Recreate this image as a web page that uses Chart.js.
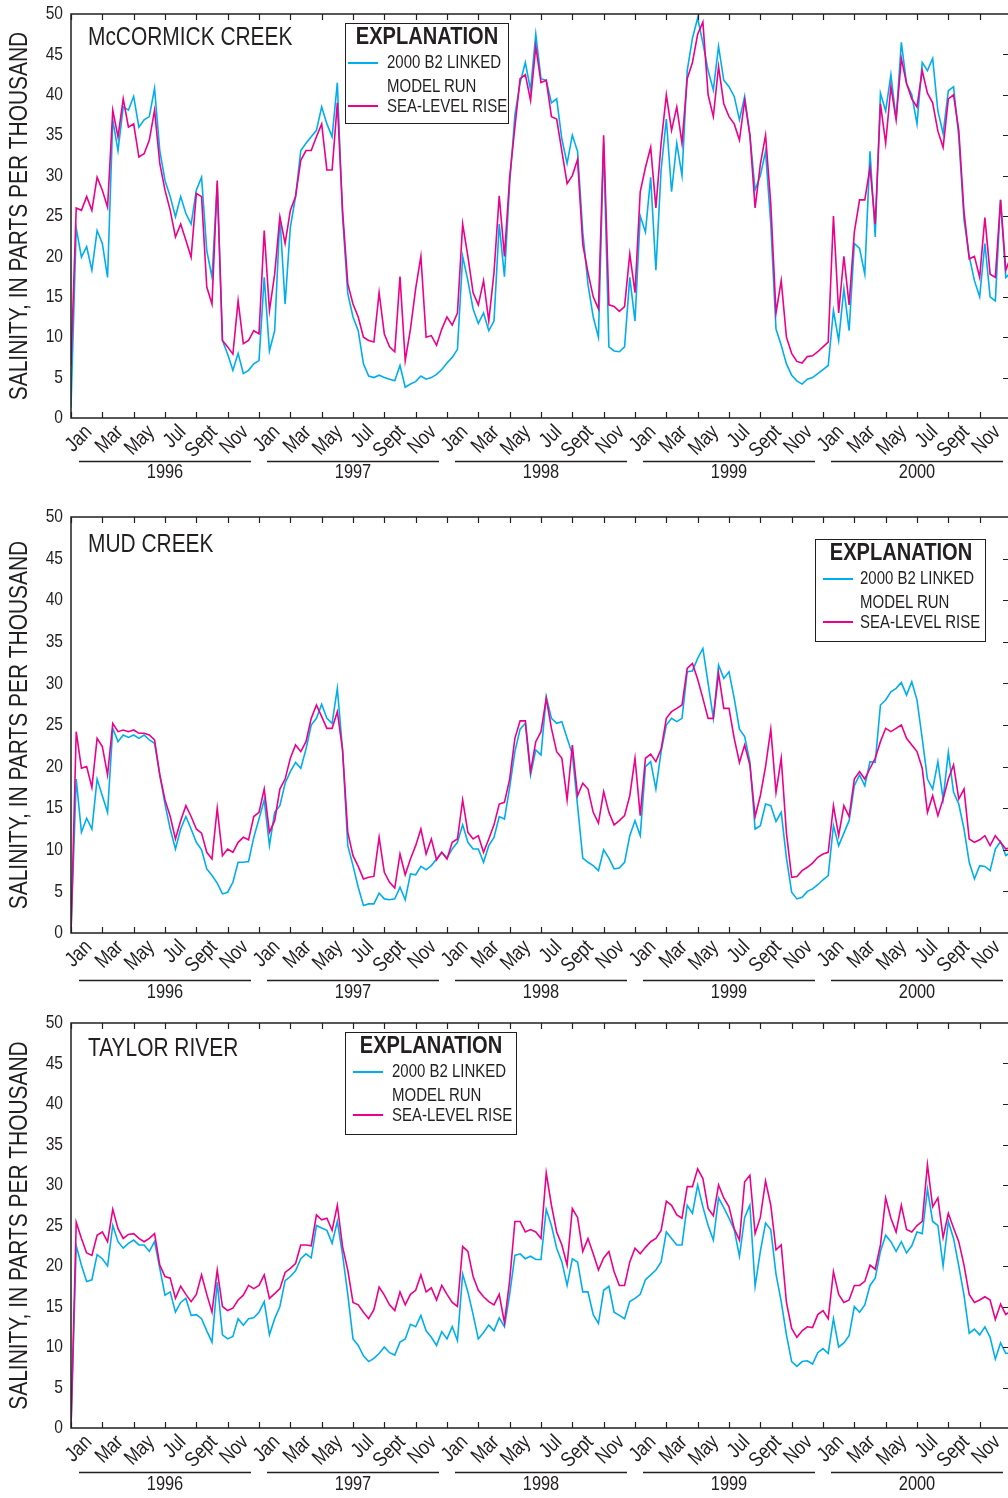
<!DOCTYPE html>
<html>
<head>
<meta charset="utf-8">
<title>Salinity</title>
<script src="https://cdn.jsdelivr.net/npm/chart.js@4.4.1/dist/chart.umd.min.js"></script>
<style>
  html, body { margin: 0; padding: 0; background: #fff; overflow: hidden; }
  body { position: relative; width: 1008px; height: 1498px; color: #231f20;
         font-family: "Liberation Sans", Arial, sans-serif; }
  canvas { position: absolute; left: 0; }
  .narrow { transform: scaleX(0.82); transform-origin: 0 0; }
  .site { position: absolute; left: 88px; font-size: 25.5px; line-height: 1; white-space: nowrap; }
  .key { position: absolute; box-sizing: border-box; border: 1.5px solid #231f20; background: #fff; }
  .key div { position: absolute; white-space: nowrap; line-height: 1; }
  .key .head { left: 50%; top: -0.5px; font-weight: bold; font-size: 24.5px;
               transform: translateX(-50%) scaleX(0.82); transform-origin: 50% 0; }
  .key .item { font-size: 18.5px; transform: scaleX(0.81); transform-origin: 0 0; }
  .key .swatch { height: 1.5px; width: 30px; }
</style>
</head>
<body>
<canvas id="mccormick" width="1030" height="500" style="top:0px"></canvas>
<canvas id="mud" width="1030" height="510" style="top:500px"></canvas>
<canvas id="taylor" width="1030" height="498" style="top:1000px"></canvas>

<div class="site narrow" style="top:23.5px">McCORMICK CREEK</div>
<div class="site narrow" style="top:530.5px">MUD CREEK</div>
<div class="site narrow" style="top:1034.5px">TAYLOR RIVER</div>

<script>
// daily salinity, sampled every ~10 days from Jan 1996 through Dec 2000
const samplesPerYear = 36;
const years = ["1996", "1997", "1998", "1999", "2000"];
const monthLabels = ["Jan", "Mar", "May", "Jul", "Sept", "Nov"];
const yTicks = [0, 5, 10, 15, 20, 25, 30, 35, 40, 45, 50];

const mccormickB2 = [
  1.3, 23.5, 19.9, 21.2, 18.3, 23.2, 21.6, 17.4, 36.9, 33.1,
  38.5, 38.1, 39.8, 36, 36.9, 37.3, 40.8, 33.1, 29.4, 27.4,
  24.9, 27.4, 25.3, 24, 28.2, 29.8, 20.7, 17.4, 29, 9.6,
  7.9, 5.9, 8, 5.5, 5.9, 6.7, 7.1, 17.4, 8.3, 10.8,
  24.9, 14.1, 23.6, 27.4, 33.1, 34, 34.8, 35.6, 38.5, 36.4,
  34.8, 41.5, 24.9, 15.4, 12.5, 10.8, 6.7, 5.2, 5.0, 5.3,
  5.0, 4.8, 4.6, 6.5, 3.8, 4.2, 4.5, 5.2, 4.8, 5.0,
  5.4, 6.0, 6.8, 7.5, 8.5, 20, 17, 13.5, 11.7, 13,
  10.8, 12, 24, 17.5, 29, 37.5, 41.5, 44, 40.6, 47.5,
  42, 41.8, 39, 39.5, 34.5, 31.5, 35, 33, 23, 16.5,
  12.5, 10, 34, 8.8, 8.3, 8.2, 8.8, 17.4, 12, 25,
  23, 29.8, 18.3, 30.7, 37, 28, 34, 30, 43, 47,
  49.5, 46.4, 43, 40.6, 46, 41.8, 41, 39.8, 36.9, 39.8,
  35, 28.2, 30, 33, 24, 11, 9, 6.7, 5.3, 4.6,
  4.2, 4.8, 5, 5.5, 6, 6.5, 13.3, 9.6, 16, 10.8,
  21.6, 21, 17.8, 33, 22.4, 40.2, 38, 42.5, 37, 46.5,
  41.4, 40, 36.4, 44, 43, 44.5, 38, 35.2, 40.5, 41,
  34.8, 24.5, 20, 17, 15, 21.6, 15, 14.5, 27, 17.4, 18
];
const mccormickSea = [
  6.5, 26, 25.7, 27.4, 25.7, 29.8, 28.2, 26.1, 38.1, 34.8,
  39.5, 36, 36.4, 32.3, 32.7, 34.4, 38.1, 31.5, 28.2, 25.7,
  22.4, 24, 22, 19.9, 27.8, 27.4, 16.2, 14.1, 29.4, 9.6,
  8.8, 7.9, 14.5, 9.2, 9.6, 10.8, 10.4, 23.2, 13.3, 17.8,
  24.9, 21.6, 25.7, 27.4, 31.9, 33.1, 33.1, 34.8, 36.4, 30.7,
  30.7, 39, 25.7, 16.6, 14.1, 12.5, 10, 9.6, 9.4, 15.5,
  10.4, 8.8, 8.2, 17.5, 7.1, 11, 16, 20, 10, 10.2,
  9.0, 11, 12.5, 11.5, 13, 24, 20, 15.5, 14, 17,
  12, 18, 27.5, 20, 29.8, 36, 42, 42.5, 39.3, 46,
  41.5, 41.8, 37.3, 37, 33, 29, 30, 32, 21.5, 18,
  15, 13.5, 35, 14, 13.8, 13.2, 13.8, 20.3, 15.5, 28,
  31, 33.5, 26, 34, 40, 35.6, 38.5, 34, 42, 44,
  47.5, 49, 40, 37.3, 43.5, 38.9, 37.3, 36.4, 34.4, 39.3,
  35, 26, 31.4, 35, 26.5, 13, 17, 10, 8, 7,
  6.8, 7.6, 7.7, 8.2, 8.8, 9.4, 25, 13, 20, 14,
  23, 27, 27, 31, 24, 38.9, 34, 41, 36.9, 44.5,
  41.4, 39.5, 38.5, 43, 40.2, 39, 35.5, 33.5, 39.5, 40,
  35.6, 25.5, 19.7, 20, 17.4, 24.8, 17.8, 17.4, 27, 18.3, 20
];

const mudB2 = [
  0, 18.5, 12.1, 13.8, 12.5, 18.5, 16.5, 14.5, 24.6, 23,
  23.8, 23.5, 23.8, 23.4, 23.8, 23.2, 22.8, 19, 15.5, 12.5,
  10.1, 12.5, 14, 12.5, 10.9, 10, 7.7, 6.9, 6, 4.7,
  4.9, 6.1, 8.5, 8.5, 8.6, 11.5, 13.7, 16, 10.5, 14.5,
  15.3, 18, 19.4, 20.5, 19.8, 22.1, 25, 25.8, 27.5, 25.8,
  25.2, 29.4, 22, 10.5, 8.1, 5.5, 3.3, 3.5, 3.5, 4.8,
  4.1, 4, 4.1, 5.5, 4, 7.1, 7, 8, 7.6, 8.1,
  8.9, 9.7, 9, 10.1, 10.9, 13, 10.9, 10.1, 10.1, 8.5,
  10.5, 11.5, 14, 13.7, 17.5, 21.8, 24.5, 25.2, 19, 22,
  21.4, 28.4, 25.8, 25.2, 25.4, 23.4, 21.5, 15.3, 9, 8.5,
  8.1, 7.5, 10, 9, 7.7, 7.8, 8.5, 11.7, 13.5, 11.7,
  20, 20.6, 17.3, 21.8, 25, 25.8, 25.4, 25.8, 31.4, 31.5,
  33, 34.2, 30, 25.8, 32.2, 30.6, 31.4, 28.2, 24.5, 23.6,
  20.6, 12.5, 12.9, 15.5, 15.3, 13.4, 14.5, 9, 4.9, 4.1,
  4.3, 5, 5.3, 5.8, 6.4, 6.9, 12.9, 10.5, 12, 13.5,
  17.7, 19, 17.7, 20.6, 20.5, 27.4, 28, 29, 29.4, 30.1,
  28.6, 30.2, 28, 23.4, 18.5, 17.3, 20.6, 16.1, 21.7, 16.9,
  15.5, 12.5, 8.5, 6.5, 8.1, 8, 7.5, 10.1, 11, 9.3, 9.7
];
const mudSea = [
  0, 24.2, 19.8, 20, 17.5, 23.4, 22.4, 19, 25.2, 24.2,
  24.4, 24.2, 24.4, 24, 24, 23.8, 23.2, 19, 16, 14,
  11.3, 13.5, 15.3, 14, 12.5, 12, 9.7, 8.9, 15, 9.3,
  10.1, 9.7, 10.9, 11.5, 11.2, 14, 14.5, 17.3, 12.1, 13.5,
  17.3, 18.5, 21, 22.6, 21.8, 23, 25.8, 27.4, 26, 24.6,
  24.6, 26.6, 22, 12.1, 9.3, 8, 6.5, 6.7, 6.8, 11.5,
  7.3, 6.1, 5.4, 9.5, 7, 8.9, 10.5, 12.5, 9.5, 11.3,
  8.8, 9.7, 8.9, 10.9, 11.3, 16, 12.1, 11.3, 11.7, 9.7,
  11.3, 13, 15.5, 15.7, 18.5, 23.4, 25.5, 25.5, 19.4, 23,
  24.2, 28.2, 24.6, 21.8, 21, 16, 22.6, 16.5, 18, 17.3,
  14.5, 13.2, 17, 14.5, 13, 13.5, 14.1, 16.5, 21, 14.1,
  21, 21.5, 20.6, 22.1, 25.8, 26.6, 27, 27.4, 31.8, 32.4,
  30.5, 28.2, 25.8, 25.8, 31.2, 27, 27, 23.4, 20.5, 22.6,
  20.2, 14, 16.5, 20, 24.5, 16.9, 21, 12, 6.7, 6.8,
  7.5, 7.9, 8.4, 9.1, 9.5, 9.7, 15.3, 11.7, 15.3, 14,
  18.5, 19.4, 18.5, 19.8, 21, 23, 24.6, 24.2, 24.6, 25,
  23.4, 22.6, 21.8, 19.8, 14.5, 16.5, 14.1, 16.1, 18.5, 20.2,
  16.1, 17.3, 11.3, 10.9, 11.2, 11.7, 10.5, 11.7, 10.9, 10.1, 10.3
];

const taylorB2 = [
  0, 22.5, 20.1, 18.1, 18.3, 21.4, 20.9, 20, 25, 23,
  22.2, 22.8, 23.2, 22.6, 22.6, 21.8, 23, 19.7, 16.4, 16.8,
  14.3, 15.5, 16, 13.9, 14, 13.5, 12, 10.6, 18, 11.5,
  11, 11.3, 13.5, 12.7, 13.5, 13.6, 14.3, 15.6, 11.5, 13.5,
  15, 18.2, 18.7, 19.4, 20.9, 21.5, 21, 25, 24.7, 24.4,
  22.8, 25.5, 21.4, 16.5, 11, 10.2, 8.9, 8.2, 8.6, 9.2,
  10, 9.3, 9, 10.6, 11, 12.8, 12.5, 13.9, 12, 11.2,
  10.2, 11.9, 11, 12.5, 10.8, 19, 16.8, 14, 11, 11.8,
  12.7, 12, 13.6, 12.5, 16.5, 21.3, 21.5, 20.9, 21.2, 20.8,
  20.8, 27, 25, 22.2, 20.5, 17.6, 20.9, 20.5, 16.8, 16.8,
  14, 12.9, 17, 17.5, 14.3, 13.9, 13.5, 15.6, 16, 16.5,
  18.3, 18.9, 19.5, 20.5, 24.2, 23.4, 22.6, 22.6, 27.5, 26.5,
  30, 27.3, 25, 23.2, 28.4, 27.2, 25.9, 24.5, 21.2, 26,
  27.5, 17.5, 21.8, 25.3, 24.5, 19, 15.6, 11.5, 8.2, 7.6,
  8.2, 8.3, 7.9, 9.3, 9.8, 9.2, 13.5, 10, 10.5, 11.4,
  15, 14.3, 15.2, 17.6, 18.5, 21.8, 23.8, 23, 21.8, 23,
  21.6, 22.5, 24.2, 24, 29.5, 25.5, 25, 20, 25.5, 23.4,
  20, 16.4, 11.7, 12.2, 11.5, 12.5, 11.2, 8.5, 10.5, 9.2, 9.3
];
const taylorSea = [
  0, 25.4, 23.4, 21.6, 21.3, 23.8, 24.2, 23, 27, 24.6,
  23.4, 23.9, 24, 23.4, 23, 23.4, 24, 20.1, 18.7, 18.5,
  16, 17.5, 16.5, 15.6, 16.5, 18.9, 16.5, 14.3, 19.5, 15,
  14.5, 14.8, 15.8, 16.4, 17.6, 17.2, 17.6, 18.9, 16, 16.6,
  17.2, 19.2, 19.7, 20.3, 22.6, 22.6, 22.5, 26.3, 25.7, 25.9,
  24.4, 27.5, 22.4, 19.5, 15.5, 15.2, 14.3, 13.5, 14.6, 17.4,
  16.4, 15.2, 14.5, 16.8, 15.2, 16.5, 17, 18.9, 16.8, 17.3,
  15.8, 17.6, 16.5, 15.5, 15, 22.4, 21.8, 18.7, 17, 16.2,
  15.6, 15.2, 16.5, 13, 18.2, 25.5, 25.5, 24.2, 24.5, 24.2,
  23.4, 31.5, 27.5, 24.2, 22.6, 20.1, 27.1, 26, 21.8, 23.4,
  21.5, 19.5, 21, 21.8, 19.3, 17.6, 17.6, 20.5, 22.2, 21.5,
  22.3, 23, 23.4, 24.4, 28, 27.5, 26.3, 25.9, 29.8, 29.8,
  32, 30.8, 27.1, 26.2, 30, 28.4, 27.3, 24.6, 23.2, 30.4,
  31.2, 24, 26, 30.5, 27.5, 22, 22.6, 15.5, 12.3, 11.2,
  12, 12.5, 12.4, 14, 14.5, 13.5, 19.3, 16.5, 15.5, 15.8,
  17.6, 17.6, 18.1, 20.1, 19.6, 22.6, 28.4, 25.9, 24.2, 27.5,
  24.5, 24.2, 25, 25.5, 32.5, 27.3, 28.4, 23.5, 26.5, 24.7,
  23, 20.1, 16.5, 15.5, 15.8, 16.2, 15.8, 13.4, 15.3, 14, 14.5
];

const INK = "#231f20";
const B2_COLOR = "#00aeef";
const SEA_COLOR = "#ec008c";
const FONT = '"Liberation Sans", Arial, sans-serif';
const SQUEEZE = 0.82; // condensed look

function narrowText(ctx, text, x, y, size, angle, align) {
  ctx.save();
  ctx.translate(x, y);
  ctx.rotate(angle);
  ctx.scale(SQUEEZE, 1);
  ctx.font = size + "px " + FONT;
  ctx.textAlign = align;
  ctx.textBaseline = "middle";
  ctx.fillText(text, 0, 0);
  ctx.restore();
}

// frame, inward ticks, axis labels and title
const axisDecor = {
  id: "axisDecor",
  afterDatasetsDraw(chart, args, opts) {
    const { ctx, chartArea: a, scales: { x, y } } = chart;
    ctx.save();
    ctx.strokeStyle = INK;
    ctx.fillStyle = INK;
    ctx.lineWidth = 1.5;
    ctx.strokeRect(a.left, a.top, a.right - a.left, a.bottom - a.top);

    ctx.lineWidth = 1.2;
    ctx.beginPath();
    for (let yr = 0; yr < years.length; yr++) {
      for (let m = 0; m < 12; m += 2) {
        const px = Math.round(x.getPixelForValue(yr + m / 12)) + 0.5;
        ctx.moveTo(px, a.top);
        ctx.lineTo(px, a.top + 6);
        ctx.moveTo(px, a.bottom);
        ctx.lineTo(px, a.bottom - 6);
      }
    }
    yTicks.forEach((v) => {
      if (v === 0 || v === 50) return;
      const py = Math.round(y.getPixelForValue(v)) + 0.5;
      ctx.moveTo(a.right, py);
      ctx.lineTo(a.right - 8, py);
    });
    ctx.stroke();

    yTicks.forEach((v) => {
      narrowText(ctx, String(v), a.left - 8, y.getPixelForValue(v), 19, 0, "right");
    });
    narrowText(ctx, "SALINITY, IN PARTS PER THOUSAND", 20, (a.top + a.bottom) / 2, 25.5, -Math.PI / 2, "center");

    years.forEach((label, yr) => {
      monthLabels.forEach((m, k) => {
        const px = x.getPixelForValue(yr + (2 * k + 1) / 12);
        narrowText(ctx, m, px + 2, a.bottom + 11, 21, -Math.PI / 4, "right");
      });

      const x0 = x.getPixelForValue(yr);
      const x1 = x.getPixelForValue(yr + 1);
      ctx.lineWidth = 1.3;
      ctx.beginPath();
      ctx.moveTo(x0 + 8, a.bottom + opts.rule + 0.5);
      ctx.lineTo(x1 - 8, a.bottom + opts.rule + 0.5);
      ctx.stroke();

      narrowText(ctx, label, (x0 + x1) / 2, a.bottom + opts.year, 20, 0, "center");
    });
    ctx.restore();
  }
};

function toPoints(values) {
  return values.map((v, i) => ({ x: i / samplesPerYear, y: v }));
}

function makePanel(id, b2, sea, top, bottom, rule, yearOffset) {
  const canvas = document.getElementById(id);
  return new Chart(canvas, {
    type: "line",
    data: {
      datasets: [
        { label: "SEA-LEVEL RISE", data: toPoints(sea), borderColor: SEA_COLOR, order: 1 },
        { label: "2000 B2 LINKED MODEL RUN", data: toPoints(b2), borderColor: B2_COLOR, order: 2 }
      ]
    },
    options: {
      responsive: false,
      animation: false,
      devicePixelRatio: 1,
      layout: { padding: { top: top, bottom: canvas.height - bottom, left: 71, right: canvas.width - 1011 } },
      elements: {
        point: { radius: 0 },
        line: { borderWidth: 1.6, tension: 0 }
      },
      plugins: {
        legend: { display: false },
        tooltip: { enabled: false },
        axisDecor: { rule: rule, year: yearOffset }
      },
      scales: {
        x: { type: "linear", min: 0, max: years.length, display: false },
        y: { min: 0, max: 50, display: false }
      }
    },
    plugins: [axisDecor]
  });
}

makePanel("mccormick", mccormickB2, mccormickSea, 14, 418, 43, 54);
makePanel("mud", mudB2, mudSea, 17, 433, 47, 59);
makePanel("taylor", taylorB2, taylorSea, 23, 428, 44, 56);

// explanation boxes
function makeKey(left, top, width, height, lineLeft, textLeft) {
  const box = document.createElement("div");
  box.className = "key";
  Object.assign(box.style, { left: left + "px", top: top + "px", width: width + "px", height: height + "px" });
  box.innerHTML =
    '<div class="head">EXPLANATION</div>' +
    `<div class="swatch" style="left:${lineLeft}px;top:38px;background:${B2_COLOR}"></div>` +
    `<div class="item" style="left:${textLeft}px;top:28.5px">2000 B2 LINKED</div>` +
    `<div class="item" style="left:${textLeft}px;top:52.5px">MODEL RUN</div>` +
    `<div class="swatch" style="left:${lineLeft}px;top:81px;background:${SEA_COLOR}"></div>` +
    `<div class="item" style="left:${textLeft}px;top:73px">SEA-LEVEL RISE</div>`;
  document.body.appendChild(box);
}
makeKey(345, 23, 164, 101, 2, 41);
makeKey(815, 539, 171, 103, 7, 44);
makeKey(345, 1032, 172, 103, 7, 46);
</script>
</body>
</html>
